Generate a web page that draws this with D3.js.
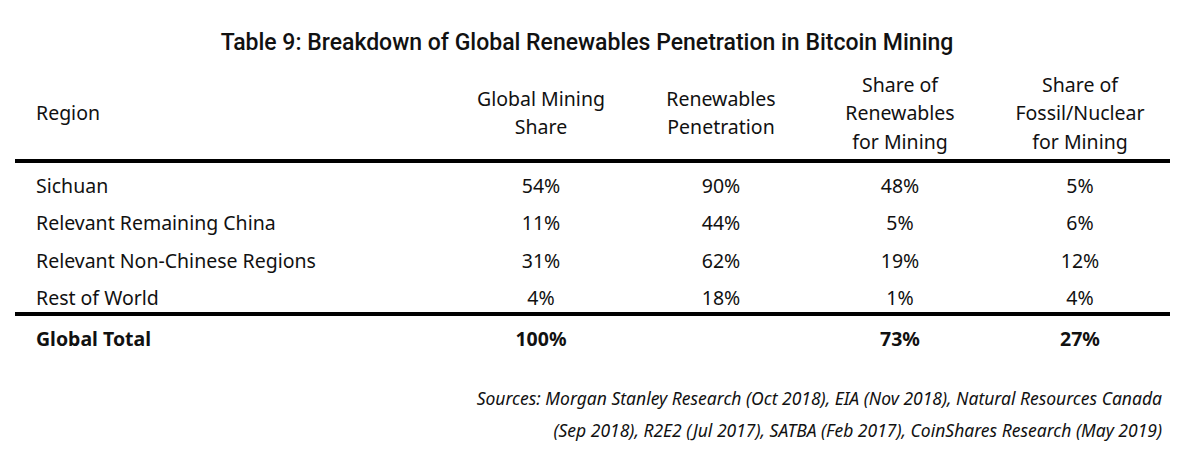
<!DOCTYPE html><html><head><meta charset="utf-8"><script src="https://cdn.jsdelivr.net/npm/d3@7"></script>
<style>body{margin:0;background:#fff}text{font-family:"Noto Sans",sans-serif;fill:#111}</style></head><body><svg id="c" width="1200" height="461"></svg>
<script>
const title="Table 9: Breakdown of Global Renewables Penetration in Bitcoin Mining";
const headers=[["Region"],["Global Mining","Share"],["Renewables","Penetration"],["Share of","Renewables","for Mining"],["Share of","Fossil/Nuclear","for Mining"]];
const regions=["Sichuan","Relevant Remaining China","Relevant Non-Chinese Regions","Rest of World"];
const miningShare=["54%","11%","31%","4%"];
const renewPen=["90%","44%","62%","18%"];
const shareRenew=["48%","5%","19%","1%"];
const shareFossil=["5%","6%","12%","4%"];
const total=["Global Total","100%","","73%","27%"];
const sources=["Sources: Morgan Stanley Research (Oct 2018), EIA (Nov 2018), Natural Resources Canada","(Sep 2018), R2E2 (Jul 2017), SATBA (Feb 2017), CoinShares Research (May 2019)"];
const svg=d3.select("#c");
const colX=[36,541,721,900,1080];
const fs=19.5;
svg.append("text").attr("x",587).attr("y",50).attr("text-anchor","middle").attr("font-size",23).attr("font-weight",500).style("font-family","Roboto").text(title);
headers.forEach((h,i)=>{
  const n=h.length; const mid=120;
  h.forEach((t,j)=>svg.append("text").attr("x",colX[i]).attr("y",mid+(j-(n-1)/2)*28.5)
    .attr("text-anchor",i?"middle":"start").attr("font-size",fs).text(t));
});
const rowY=d3.scalePoint().domain(d3.range(4)).range([193,305]);
const cols=[regions,miningShare,renewPen,shareRenew,shareFossil];
cols.forEach((c,i)=>c.forEach((v,r)=>svg.append("text").attr("x",colX[i]).attr("y",rowY(r)).attr("text-anchor",i?"middle":"start").attr("font-size",fs).text(v)));
total.forEach((v,i)=>svg.append("text").attr("x",colX[i]).attr("y",346).attr("text-anchor",i?"middle":"start").attr("font-size",fs).attr("font-weight","bold").text(v));
[161,314].forEach(y=>svg.append("rect").attr("x",15).attr("y",y-2).attr("width",1155).attr("height",4).attr("fill","#000"));
sources.forEach((s,i)=>svg.append("text").attr("x",1162).attr("y",405+i*32).attr("text-anchor","end").attr("font-size",17.5).attr("font-style","italic").text(s));
</script></body></html>
